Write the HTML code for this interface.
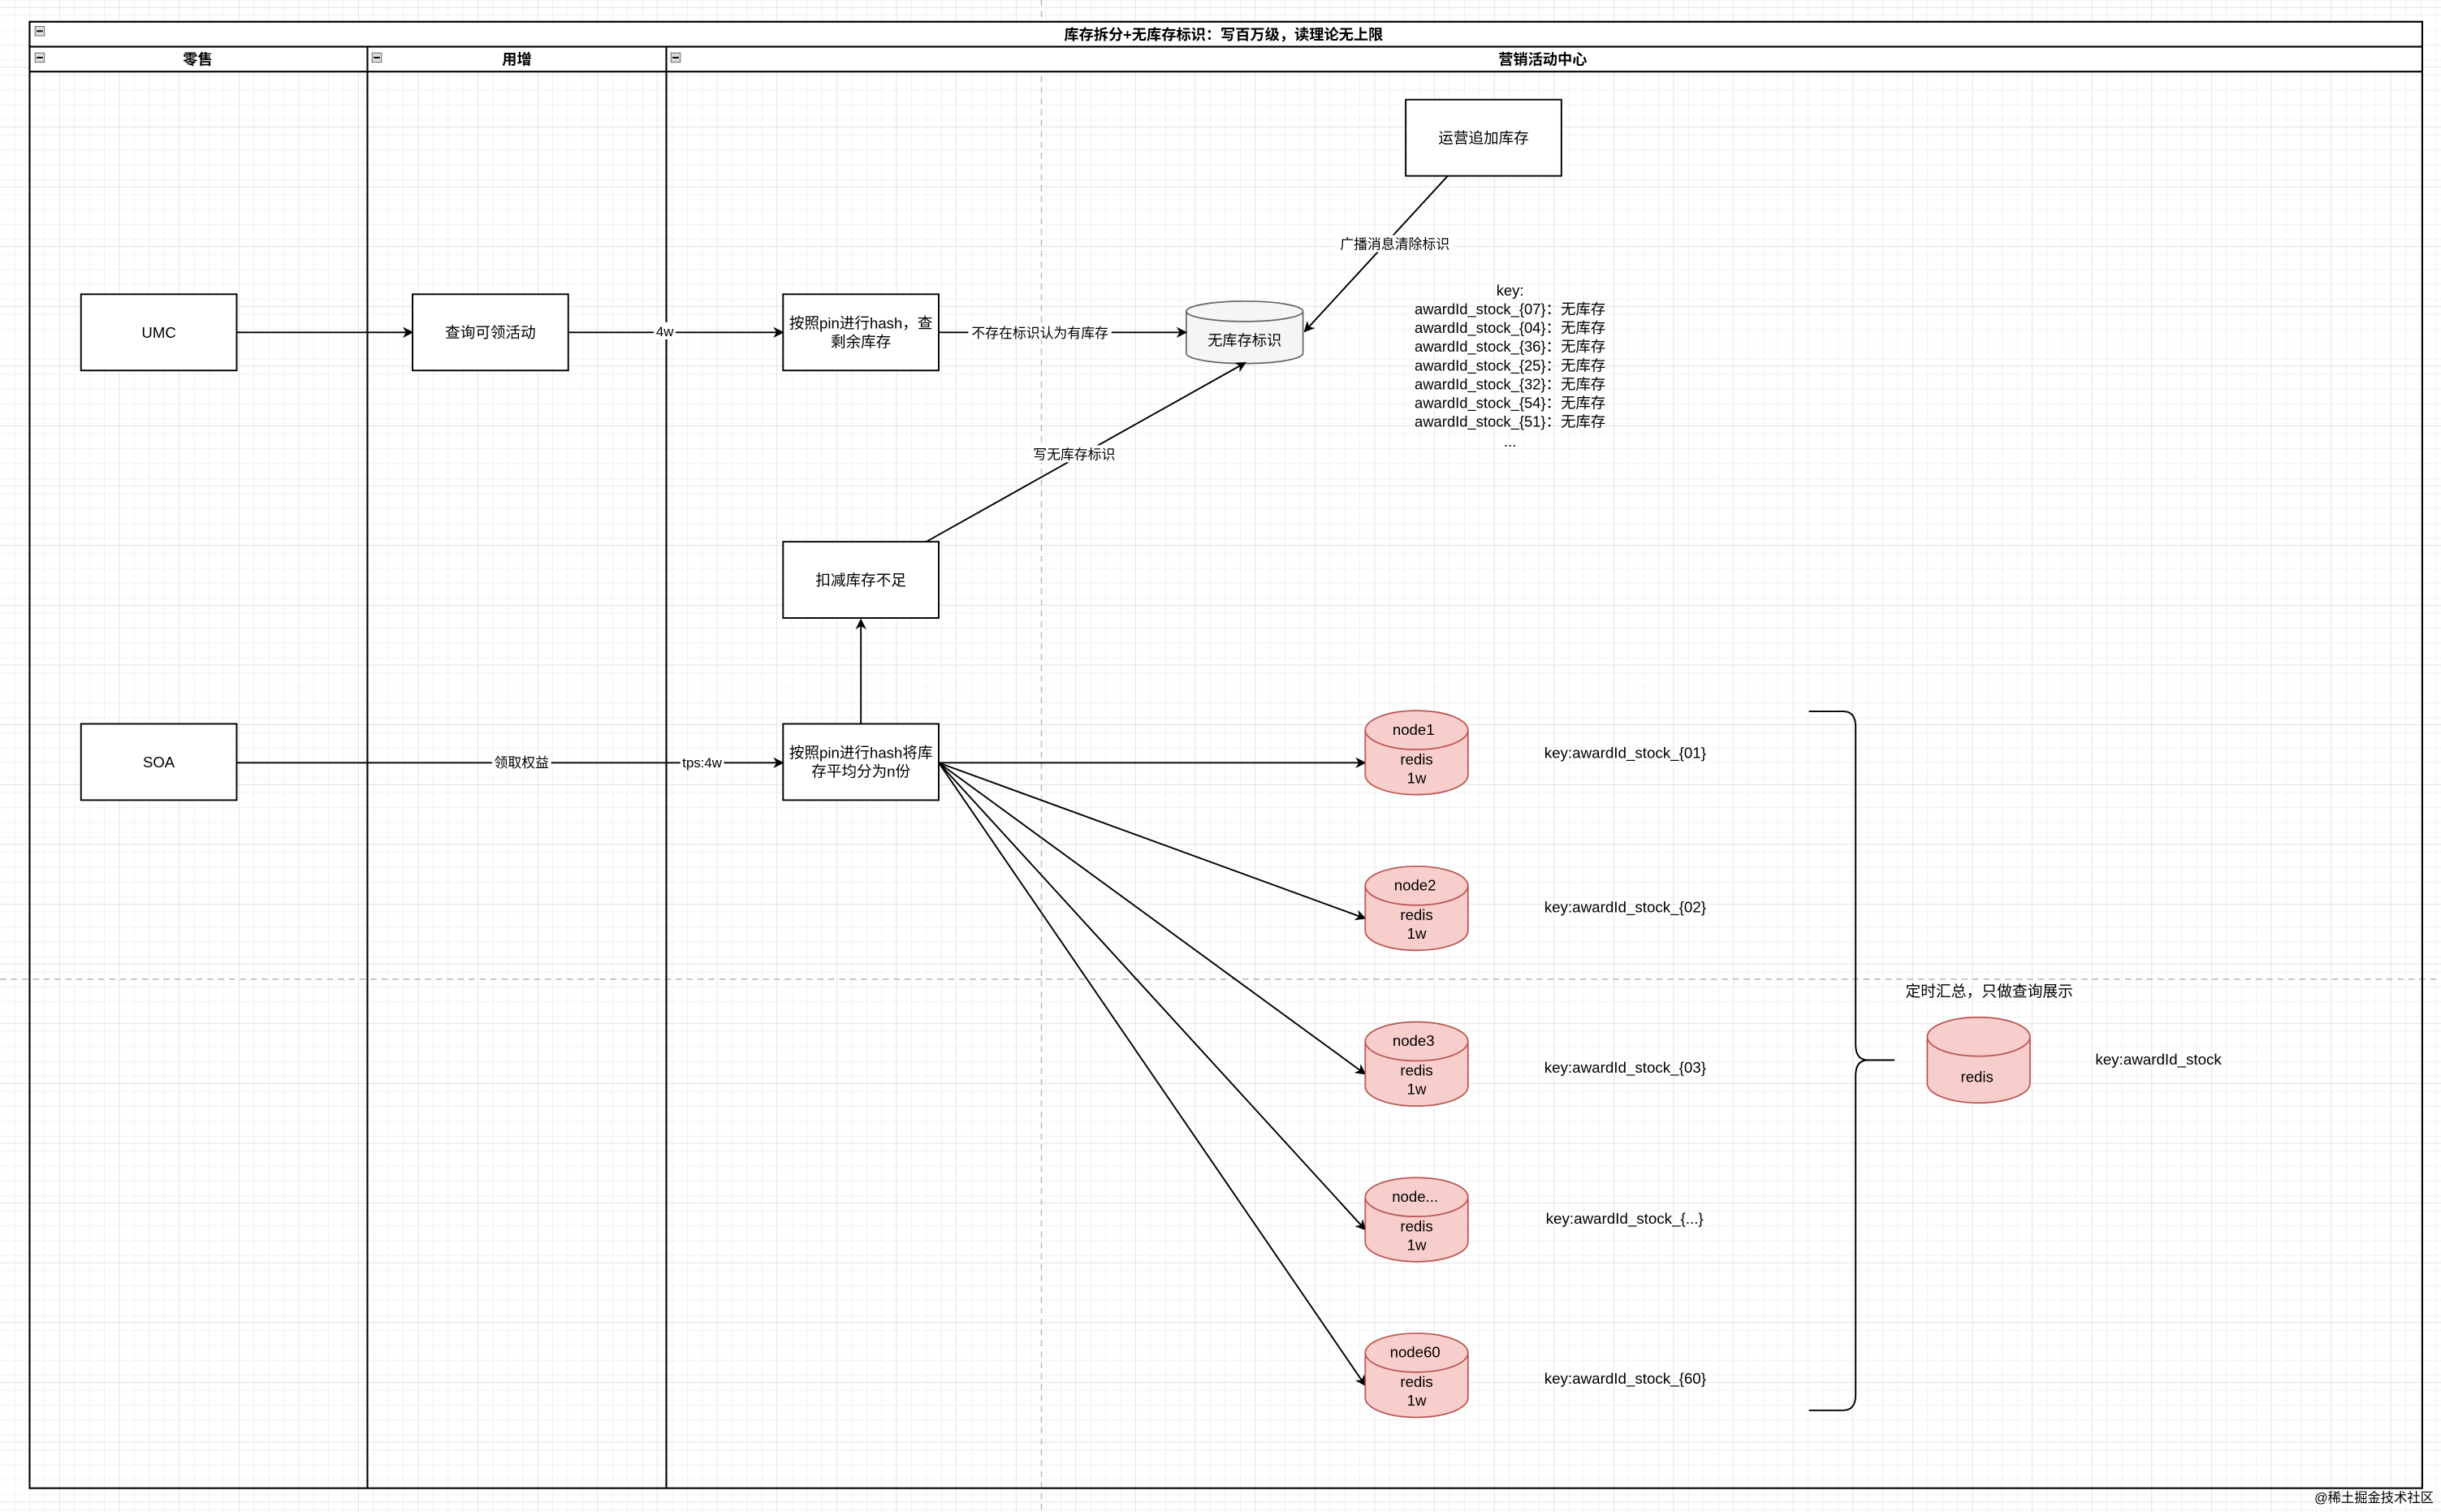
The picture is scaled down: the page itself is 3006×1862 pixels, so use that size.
<!DOCTYPE html>
<html><head><meta charset="utf-8"><style>
html,body{margin:0;padding:0;background:#fff;}
svg{display:block;}
text{font-family:"Liberation Sans","Noto Sans CJK SC",sans-serif;fill:#000;}
</style></head><body>
<svg width="3006" height="1862" viewBox="0 0 1568 971.3" xmlns="http://www.w3.org/2000/svg">
<defs>
<pattern id="gm" width="9.6" height="9.6" patternUnits="userSpaceOnUse" x="0" y="5">
<path d="M9.6 0V9.6M0 9.6H9.6" stroke="#e6e6e6" stroke-width="0.5" fill="none"/>
</pattern>
<pattern id="gM" width="38.4" height="38.4" patternUnits="userSpaceOnUse" x="0" y="5">
<rect width="38.4" height="38.4" fill="url(#gm)"/>
<path d="M38.4 0V38.4M0 38.4H38.4" stroke="#d2d2d2" stroke-width="0.6" fill="none"/>
</pattern>
<marker id="a" viewBox="0 0 10 10" refX="9" refY="5" markerWidth="7" markerHeight="7" orient="auto" markerUnits="userSpaceOnUse">
<path d="M0 0L10 5L0 10L3 5Z" fill="#000"/>
</marker>
</defs>
<rect width="1568" height="971.3" fill="#fff"/>
<rect width="1568" height="971.3" fill="url(#gM)"/>
<line x1="669" y1="0" x2="669" y2="971" stroke="#bbb" stroke-width="0.8" stroke-dasharray="4,3"/>
<line x1="0" y1="629" x2="1568" y2="629" stroke="#bbb" stroke-width="0.8" stroke-dasharray="4,3"/>

<rect x="19" y="14" width="1537" height="942" fill="none" stroke="#000" stroke-width="1.1"/>
<rect x="19" y="14" width="1537" height="16" fill="#fff" stroke="#000" stroke-width="1.1"/>
<rect x="19" y="30" width="1537" height="16" fill="#fff" stroke="#000" stroke-width="1.1"/>
<line x1="236" y1="30" x2="236" y2="956" stroke="#000" stroke-width="1.1"/>
<line x1="428" y1="30" x2="428" y2="956" stroke="#000" stroke-width="1.1"/>
<text x="786" y="25.5" font-size="9.5" font-weight="bold" text-anchor="middle">库存拆分+无库存标识：写百万级，读理论无上限</text>
<text x="127" y="41.5" font-size="9.5" font-weight="bold" text-anchor="middle">零售</text>
<text x="332" y="41.5" font-size="9.5" font-weight="bold" text-anchor="middle">用增</text>
<text x="991" y="41.5" font-size="9.5" font-weight="bold" text-anchor="middle">营销活动中心</text>
<g fill="#ddd" stroke="#666" stroke-width="0.5">
<rect x="22.5" y="17" width="6" height="6"/><rect x="22.5" y="34" width="6" height="6"/>
<rect x="239" y="34" width="6" height="6"/><rect x="431" y="34" width="6" height="6"/>
</g>
<g stroke="#000" stroke-width="1"><line x1="23.5" y1="20" x2="27.5" y2="20"/><line x1="23.5" y1="37" x2="27.5" y2="37"/><line x1="240" y1="37" x2="244" y2="37"/><line x1="432" y1="37" x2="436" y2="37"/></g>

<g fill="#fff" stroke="#000" stroke-width="1">
<rect x="52" y="189" width="100" height="49"/>
<rect x="265" y="189" width="100" height="49"/>
<rect x="503" y="189" width="100" height="49"/>
<rect x="903" y="64" width="100" height="49"/>
<rect x="503" y="348" width="100" height="49"/>
<rect x="52" y="465" width="100" height="49"/>
<rect x="503" y="465" width="100" height="49"/>
</g>
<g font-size="9.7" text-anchor="middle">
<text x="102" y="217">UMC</text>
<text x="315" y="217">查询可领活动</text>
<text x="553" y="211">按照pin进行hash，查</text>
<text x="553" y="223">剩余库存</text>
<text x="953" y="92">运营追加库存</text>
<text x="553" y="376">扣减库存不足</text>
<text x="102" y="493">SOA</text>
<text x="553" y="487">按照pin进行hash将库</text>
<text x="553" y="499">存平均分为n份</text>
</g>

<path d="M762 200 V227 A37.5 6.5 0 0 0 837 227 V200" fill="#f5f5f5" stroke="#666" stroke-width="0.9"/>
<ellipse cx="799.5" cy="200" rx="37.5" ry="6.5" fill="#f5f5f5" stroke="#666" stroke-width="0.9"/>
<text x="799.5" y="222" font-size="9.5" text-anchor="middle" fill="#333">无库存标识</text>

<g font-size="9.6" text-anchor="middle">
<text x="970" y="190">key:</text>
<text x="970" y="202">awardId_stock_{07}：无库存</text>
<text x="970" y="214">awardId_stock_{04}：无库存</text>
<text x="970" y="226">awardId_stock_{36}：无库存</text>
<text x="970" y="238">awardId_stock_{25}：无库存</text>
<text x="970" y="250">awardId_stock_{32}：无库存</text>
<text x="970" y="262">awardId_stock_{54}：无库存</text>
<text x="970" y="274">awardId_stock_{51}：无库存</text>
<text x="970" y="287">...</text>
</g>

<g stroke="#000" stroke-width="1" fill="none" marker-end="url(#a)">
<line x1="152" y1="213.5" x2="265" y2="213.5"/>
<line x1="365" y1="213.5" x2="503" y2="213.5"/>
<line x1="603" y1="213.5" x2="762" y2="213.5"/>
<line x1="930" y1="113" x2="838" y2="213"/>
<line x1="595" y1="348" x2="800" y2="233"/>
<line x1="553" y1="465" x2="553" y2="398"/>
<line x1="152" y1="490" x2="503" y2="490"/>
<line x1="603" y1="490" x2="877" y2="490"/>
<line x1="603" y1="490" x2="877" y2="590"/>
<line x1="603" y1="490" x2="877" y2="690"/>
<line x1="603" y1="490" x2="877" y2="790"/>
<line x1="603" y1="490" x2="877" y2="890"/>
</g>
<g font-size="8.8" text-anchor="middle">
<rect x="420" y="207" width="14" height="11" fill="#fff"/><text x="427" y="216">4w</text>
<rect x="622" y="207" width="92" height="11" fill="#fff"/><text x="668" y="217">不存在标识认为有库存</text>
<rect x="858" y="151" width="76" height="11" fill="#fff"/><text x="896" y="160">广播消息清除标识</text>
<rect x="661" y="286" width="58" height="11" fill="#fff"/><text x="690" y="295">写无库存标识</text>
<rect x="316" y="484" width="38" height="11" fill="#fff"/><text x="335" y="493">领取权益</text>
<rect x="437" y="484" width="28" height="11" fill="#fff"/><text x="451" y="493">tps:4w</text>
</g>

<g stroke="#b85450" stroke-width="0.9" fill="#f8cecc">
<path d="M877 469 V498 A33 12.5 0 0 0 943 498 V469"/><ellipse cx="910" cy="469" rx="33" ry="12.5"/>
<path d="M877 569 V598 A33 12.5 0 0 0 943 598 V569"/><ellipse cx="910" cy="569" rx="33" ry="12.5"/>
<path d="M877 669 V698 A33 12.5 0 0 0 943 698 V669"/><ellipse cx="910" cy="669" rx="33" ry="12.5"/>
<path d="M877 769 V798 A33 12.5 0 0 0 943 798 V769"/><ellipse cx="910" cy="769" rx="33" ry="12.5"/>
<path d="M877 869 V898 A33 12.5 0 0 0 943 898 V869"/><ellipse cx="910" cy="869" rx="33" ry="12.5"/>
<path d="M1238 666 V696 A33 12.5 0 0 0 1304 696 V666"/><ellipse cx="1271" cy="666" rx="33" ry="12.5"/>
</g>
<g font-size="9.7" text-anchor="middle">
<text x="908" y="472">node1</text><text x="910" y="491">redis</text><text x="910" y="503">1w</text>
<text x="909" y="572">node2</text><text x="910" y="591">redis</text><text x="910" y="603">1w</text>
<text x="908" y="672">node3</text><text x="910" y="691">redis</text><text x="910" y="703">1w</text>
<text x="909" y="772">node...</text><text x="910" y="791">redis</text><text x="910" y="803">1w</text>
<text x="909" y="872">node60</text><text x="910" y="891">redis</text><text x="910" y="903">1w</text>
<text x="1270" y="695">redis</text>
</g>
<g font-size="9.8">
<text x="992" y="487">key:awardId_stock_{01}</text>
<text x="992" y="586">key:awardId_stock_{02}</text>
<text x="992" y="689">key:awardId_stock_{03}</text>
<text x="993" y="786">key:awardId_stock_{...}</text>
<text x="992" y="889">key:awardId_stock_{60}</text>
<text x="1346" y="684">key:awardId_stock</text>
<text x="1224" y="640">定时汇总，只做查询展示</text>
</g>

<path d="M1162 457 H1184 Q1192 457 1192 467 V671 Q1192 681 1200 681 H1217 M1200 681 Q1192 681 1192 691 V896 Q1192 906 1184 906 H1162" fill="none" stroke="#000" stroke-width="1"/>

<text x="1525" y="965" font-size="8.5" fill="#aaa" text-anchor="middle">@稀土掘金技术社区</text>
</svg>
</body></html>
